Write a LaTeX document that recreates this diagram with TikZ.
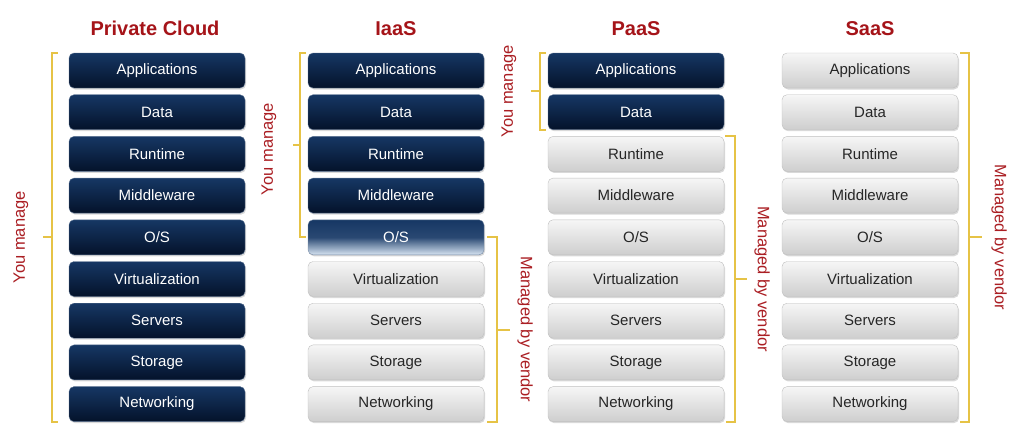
\documentclass[tikz,border=0pt]{standalone}
\usepackage{fontspec}
\setmainfont{Liberation Sans}
\usetikzlibrary{calc, shadows}

\definecolor{navytop}{RGB}{22,55,100}
\definecolor{navybot}{RGB}{4,18,42}
\definecolor{greytop}{RGB}{246,246,246}
\definecolor{greybot}{RGB}{206,206,206}
\definecolor{oslight}{RGB}{215,228,242}
\definecolor{titlered}{RGB}{165,20,25}
\definecolor{labelred}{RGB}{170,30,35}
\definecolor{bracegold}{RGB}{230,195,70}

\tikzset{
  layer/.style={minimum width=176pt, minimum height=35pt, rounded corners=5pt,
    font=\fontsize{15}{18}\selectfont,
    drop shadow={opacity=0.3, shadow xshift=1pt, shadow yshift=-1.5pt}},
  darklayer/.style={layer, draw=navytop!70!white, top color=navytop, bottom color=navybot, text=white},
  greylayer/.style={layer, draw=gray!50, top color=greytop, bottom color=greybot, text=black!85},
  oslayer/.style={layer, draw=navytop!60!white, top color=navytop, bottom color=oslight,
    middle color=navytop!90!oslight, text=white},
  coltitle/.style={font=\fontsize{20}{24}\selectfont\bfseries, text=titlered},
  sidelabel/.style={font=\fontsize{16.5}{20}\selectfont, text=labelred},
  brace/.style={draw=bracegold, line width=2pt},
}

\begin{document}
\begin{tikzpicture}[x=1pt, y=1pt]
  \useasboundingbox (0,0) rectangle (1024,-429);

  % the four stacks
  \foreach \lbl/\ia/\pa [count=\i] in {Applications/darklayer/darklayer, Data/darklayer/darklayer,
      Runtime/darklayer/greylayer, Middleware/darklayer/greylayer, {O/S}/oslayer/greylayer,
      Virtualization/greylayer/greylayer, Servers/greylayer/greylayer, Storage/greylayer/greylayer,
      Networking/greylayer/greylayer}
  {
    \pgfmathsetmacro\ry{-70.5-41.7*(\i-1)}
    \node[darklayer] (pc\i) at (157,\ry) {\lbl};
    \node[\ia] (ia\i) at (396,\ry) {\lbl};
    \node[\pa] (pa\i) at (636,\ry) {\lbl};
    \node[greylayer] (sa\i) at (870,\ry) {\lbl};
  }

  \node[coltitle] (pctitle) at ([xshift=-2pt, yshift=24pt]pc1.north) {Private Cloud};
  \node[coltitle] (iatitle) at ([yshift=24pt]ia1.north) {IaaS};
  \node[coltitle] (patitle) at ([yshift=24pt]pa1.north) {PaaS};
  \node[coltitle] (satitle) at ([yshift=24pt]sa1.north) {SaaS};

  % Private Cloud: you manage everything
  \draw[brace] ([xshift=-11pt]pc1.north west) -| ([xshift=-17pt]pc9.south west) -- ([xshift=-11pt]pc9.south west);
  \coordinate (pcmid) at ($([xshift=-17pt]pc1.north west)!.5!([xshift=-17pt]pc9.south west)$);
  \draw[brace] (pcmid) -- +(-9,0);
  \node[sidelabel, rotate=90] (pcyou) at ([xshift=-31pt]pcmid) {You manage};

  % IaaS
  \draw[brace] ([xshift=-2pt]ia1.north west) -| ([xshift=-8pt]ia5.west) -- ([xshift=-2pt]ia5.west);
  \coordinate (iamid) at ($([xshift=-8pt]ia1.north west)!.5!([xshift=-8pt]ia5.west)$);
  \draw[brace] (iamid) -- +(-7,0);
  \node[sidelabel, rotate=90] (iayou) at ([xshift=-31pt, yshift=-4pt]iamid) {You manage};

  \draw[brace] ([xshift=3pt]ia5.east) -| ([xshift=13pt]ia9.south east) -- ([xshift=3pt]ia9.south east);
  \coordinate (iavmid) at ($([xshift=13pt]ia5.east)!.5!([xshift=13pt]ia9.south east)$);
  \draw[brace] (iavmid) -- +(13,0);
  \node[sidelabel, rotate=-90] (iavendor) at ([xshift=28pt]iavmid) {Managed by vendor};

  % PaaS
  \draw[brace] ([xshift=-2pt]pa1.north west) -| ([xshift=-8pt]pa2.south west) -- ([xshift=-2pt]pa2.south west);
  \coordinate (pamid) at ($([xshift=-8pt]pa1.north west)!.5!([xshift=-8pt]pa2.south west)$);
  \draw[brace] (pamid) -- +(-9,0);
  \node[sidelabel, rotate=90] (payou) at ([xshift=-31pt]pamid) {You manage};

  \draw[brace] ([xshift=1pt]pa3.north east) -| ([xshift=11pt]pa9.south east) -- ([xshift=2pt]pa9.south east);
  \coordinate (pavmid) at ($([xshift=11pt]pa3.north east)!.5!([xshift=11pt]pa9.south east)$);
  \draw[brace] (pavmid) -- +(12,0);
  \node[sidelabel, rotate=-90] (pavendor) at ([xshift=27pt]pavmid) {Managed by vendor};

  % SaaS
  \draw[brace] ([xshift=2pt]sa1.north east) -| ([xshift=11pt]sa9.south east) -- ([xshift=2pt]sa9.south east);
  \coordinate (samid) at ($([xshift=11pt]sa1.north east)!.5!([xshift=11pt]sa9.south east)$);
  \draw[brace] (samid) -- +(13,0);
  \node[sidelabel, rotate=-90] (savendor) at ([xshift=30pt]samid) {Managed by vendor};
\end{tikzpicture}
\end{document}
